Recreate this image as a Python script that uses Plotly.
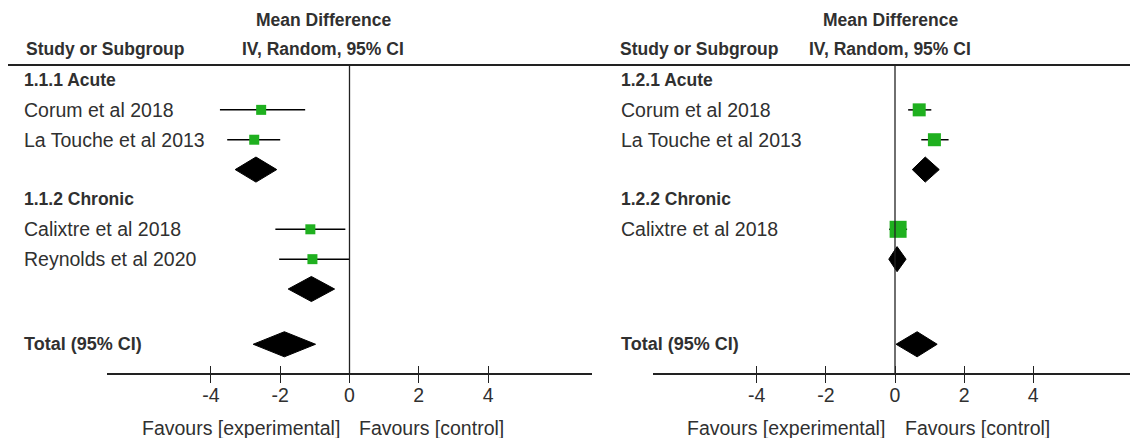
import plotly.graph_objects as go

# ---------------- data ----------------
# Left panel (1.1)
left_groups = ["1.1.1 Acute", "1.1.2 Chronic"]
left_studies = [["Corum et al 2018", "La Touche et al 2013"],
                ["Calixtre et al 2018", "Reynolds et al 2020"]]
left_md = [[-2.55, -2.75], [-1.13, -1.07]]
left_lo = [[-3.74, -3.53], [-2.14, -2.03]]
left_hi = [[-1.28, -2.00], [-0.12, 0.00]]
left_sub_md = [-2.70, -1.10]
left_sub_lo = [-3.30, -1.77]
left_sub_hi = [-2.10, -0.43]
left_tot = (-1.88, -2.78, -0.98)  # md, lo, hi

# Right panel (1.2)
right_groups = ["1.2.1 Acute", "1.2.2 Chronic"]
right_studies = [["Corum et al 2018", "La Touche et al 2013"],
                 ["Calixtre et al 2018"]]
right_md = [[0.70, 1.14], [0.09]]
right_lo = [[0.38, 0.76], [-0.17]]
right_hi = [[1.05, 1.55], [0.35]]
right_sub_md = [0.875, 0.06]
right_sub_lo = [0.50, -0.18]
right_sub_hi = [1.28, 0.32]
right_tot = (0.64, 0.03, 1.22)

tick_vals = [-4, -2, 0, 2, 4]
tick_text = ["-4", "-2", "0", "2", "4"]

# ---------------- style ----------------
W, H = 1130, 438
FONT = "Liberation Sans, Arial, sans-serif"
TXT = "#303030"
GREEN = "#1fb01f"
ROW0_PX, ROW_PX = 80, 29.86
TOTAL_ROW = 8.85
DIAM_H = 0.42
HEADER_Y_PX = 65
AXIS_Y_PX = 374
BOLD_SIZE = 17.5
REG_SIZE = 19.5
left_sizes = [[10, 10], [10, 10]]
right_sizes = [[13, 13], [17]]


def px2py(y):
    return 1 - y / H


def px2px(x):
    return x / W


fig = go.Figure()
annotations = []
shapes = []


def add_panel(xa, groups, studies, md, lo, hi, smd, slo, shi, tot, sizes, label_x_px):
    row = 0
    sx, sy, slo_l, shi_l, ss = [], [], [], [], []
    for g, name in enumerate(groups):
        annotations.append(dict(text="<b>%s</b>" % name, x=px2px(label_x_px), xref="paper",
                                y=row, yref="y", xanchor="left", yanchor="middle",
                                showarrow=False, font=dict(family=FONT, size=BOLD_SIZE, color=TXT)))
        row += 1
        for i, st in enumerate(studies[g]):
            annotations.append(dict(text=st, x=px2px(label_x_px), xref="paper",
                                    y=row, yref="y", xanchor="left", yanchor="middle",
                                    showarrow=False, font=dict(family=FONT, size=REG_SIZE, color=TXT)))
            sx.append(md[g][i]); sy.append(row)
            slo_l.append(md[g][i] - lo[g][i]); shi_l.append(hi[g][i] - md[g][i])
            ss.append(sizes[g][i])
            row += 1
        # subgroup diamond
        fig.add_trace(go.Scatter(x=[slo[g], smd[g], shi[g], smd[g], slo[g]],
                                 y=[row, row - DIAM_H, row, row + DIAM_H, row],
                                 fill="toself", fillcolor="black", mode="lines",
                                 line=dict(color="black", width=1), xaxis=xa, yaxis="y",
                                 hoverinfo="skip", showlegend=False))
        row += 1
    # total
    annotations.append(dict(text="<b>Total (95% CI)</b>", x=px2px(label_x_px), xref="paper",
                            y=TOTAL_ROW, yref="y", xanchor="left", yanchor="middle",
                            showarrow=False, font=dict(family=FONT, size=18, color=TXT)))
    t_md, t_lo, t_hi = tot
    fig.add_trace(go.Scatter(x=[t_lo, t_md, t_hi, t_md, t_lo],
                             y=[TOTAL_ROW, TOTAL_ROW - DIAM_H, TOTAL_ROW, TOTAL_ROW + DIAM_H, TOTAL_ROW],
                             fill="toself", fillcolor="black", mode="lines",
                             line=dict(color="black", width=1), xaxis=xa, yaxis="y",
                             hoverinfo="skip", showlegend=False))
    # study estimates
    fig.add_trace(go.Scatter(x=sx, y=sy, mode="markers", xaxis=xa, yaxis="y",
                             marker=dict(symbol="square", size=ss, color=GREEN, opacity=1,
                                         line=dict(width=0)),
                             error_x=dict(type="data", symmetric=False, array=shi_l, arrayminus=slo_l,
                                          width=0, thickness=1.5, color="black"),
                             hoverinfo="skip", showlegend=False))


add_panel("x", left_groups, left_studies, left_md, left_lo, left_hi,
          left_sub_md, left_sub_lo, left_sub_hi, left_tot, left_sizes, 22)
add_panel("x2", right_groups, right_studies, right_md, right_lo, right_hi,
          right_sub_md, right_sub_lo, right_sub_hi, right_tot, right_sizes, 619)

# headers
hfont_b = dict(family=FONT, size=BOLD_SIZE, color=TXT)
for sx_px, mid_px in [(24, 323), (618, 890)]:
    annotations.append(dict(text="<b>Study or Subgroup</b>", x=px2px(sx_px), y=px2py(49),
                            xref="paper", yref="paper", xanchor="left", yanchor="middle",
                            showarrow=False, font=hfont_b))
    annotations.append(dict(text="<b>Mean Difference</b>", x=px2px(mid_px), y=px2py(20),
                            xref="paper", yref="paper", xanchor="center", yanchor="middle",
                            showarrow=False, font=hfont_b))
    annotations.append(dict(text="<b>IV, Random, 95% CI</b>", x=px2px(mid_px), y=px2py(49),
                            xref="paper", yref="paper", xanchor="center", yanchor="middle",
                            showarrow=False, font=hfont_b))

# favours labels
for xa in ["x", "x2"]:
    annotations.append(dict(text="Favours [experimental]", x=-0.22, xref=xa, y=px2py(428), yref="paper",
                            xanchor="right", yanchor="middle", showarrow=False,
                            font=dict(family=FONT, size=REG_SIZE, color=TXT)))
    annotations.append(dict(text="Favours [control]", x=0.22, xref=xa, y=px2py(428), yref="paper",
                            xanchor="left", yanchor="middle", showarrow=False,
                            font=dict(family=FONT, size=REG_SIZE, color=TXT)))

# header rule
shapes.append(dict(type="line", xref="paper", yref="paper", x0=px2px(8), x1=1,
                   y0=px2py(HEADER_Y_PX), y1=px2py(HEADER_Y_PX), line=dict(color="#222", width=2)))
# zero lines
for xa in ["x", "x2"]:
    shapes.append(dict(type="line", xref=xa, yref="paper", x0=0, x1=0,
                       y0=px2py(AXIS_Y_PX), y1=px2py(HEADER_Y_PX), line=dict(color="#222", width=1.3)))

axpos = px2py(AXIS_Y_PX)
common = dict(showgrid=False, zeroline=False, anchor="free", position=axpos, fixedrange=True)
left_dom = [px2px(107), px2px(592)]
right_dom = [px2px(653), 1.0]
right_range = [-7, -7 + 14 * (W - 653) / (1137 - 653)]
tickfont = dict(family=FONT, size=REG_SIZE, color=TXT)

fig.update_layout(
    width=W, height=H, margin=dict(l=0, r=0, t=0, b=0, pad=0),
    paper_bgcolor="white", plot_bgcolor="white",
    showlegend=False,
    xaxis=dict(domain=left_dom, range=[-7, 7], showline=True, linecolor="#222", linewidth=1.8,
               ticks="outside", ticklen=8, tickwidth=1.3, tickcolor="#222", ticklabelstandoff=-4,
               tickvals=tick_vals, ticktext=tick_text, tickfont=tickfont, **common),
    xaxis3=dict(overlaying="x", range=[-7, 7], showline=False, ticks="inside", ticklen=8,
                tickwidth=1.3, tickcolor="#222", tickvals=tick_vals, showticklabels=False, **common),
    xaxis2=dict(domain=right_dom, range=right_range, showline=True, linecolor="#222", linewidth=1.8,
                ticks="outside", ticklen=8, tickwidth=1.3, tickcolor="#222", ticklabelstandoff=-4,
                tickvals=tick_vals, ticktext=tick_text, tickfont=tickfont, **common),
    xaxis4=dict(overlaying="x2", range=right_range, showline=False, ticks="inside", ticklen=8,
                tickwidth=1.3, tickcolor="#222", tickvals=tick_vals, showticklabels=False, **common),
    yaxis=dict(domain=[0, 1], range=[(H - ROW0_PX) / ROW_PX, -ROW0_PX / ROW_PX],
               visible=False, fixedrange=True),
    annotations=annotations, shapes=shapes,
)
# dummy traces so overlay axes render
fig.add_trace(go.Scatter(x=[None], y=[None], xaxis="x3", yaxis="y", showlegend=False))
fig.add_trace(go.Scatter(x=[None], y=[None], xaxis="x4", yaxis="y", showlegend=False))

fig.write_html("out.html", config={"displayModeBar": False},
               post_script="document.body.style.margin='0';document.body.style.overflow='hidden';")
